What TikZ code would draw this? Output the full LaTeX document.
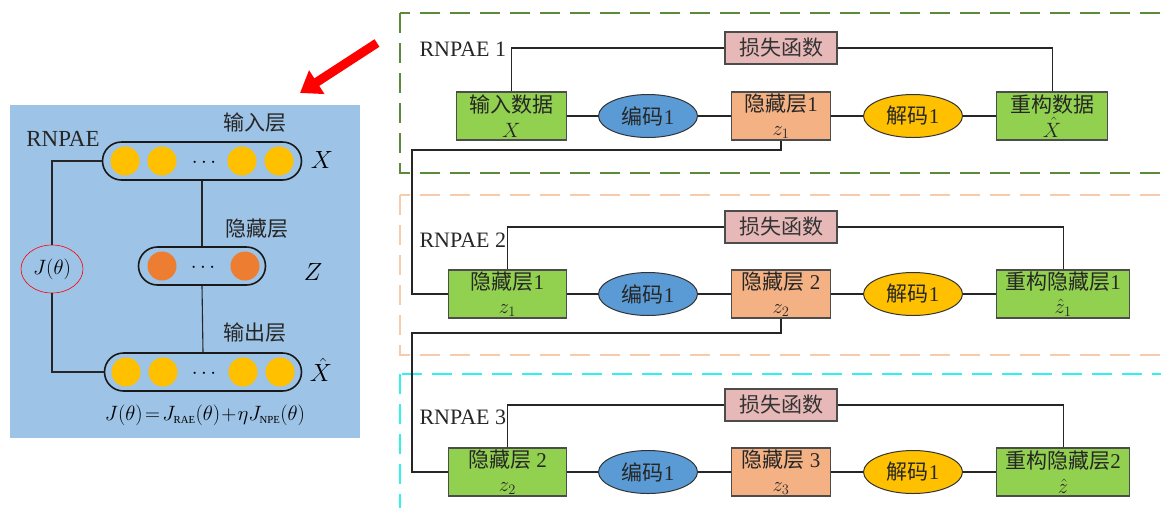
\documentclass[tikz,border=0pt]{standalone}
\usepackage{fontspec}
\setmainfont{Liberation Serif}
\newfontfamily\cjk{Noto Sans CJK SC}
\usetikzlibrary{positioning, arrows.meta, shapes.geometric}
\usepackage{xcolor}
\definecolor{panelblue}{HTML}{9DC3E6}
\definecolor{dotyellow}{HTML}{FFC000}
\definecolor{dotorange}{HTML}{ED7D31}
\definecolor{boxgreen}{HTML}{92D050}
\definecolor{boxorange}{HTML}{F4B183}
\definecolor{ellblue}{HTML}{5B9BD5}
\definecolor{losspink}{HTML}{E6B9B8}
\definecolor{grpgreen}{HTML}{5A8A3A}
\definecolor{grpsalmon}{HTML}{F8CBAD}
\definecolor{grpcyan}{HTML}{30F0F0}

\begin{document}
\begin{tikzpicture}[x=1pt, y=-1pt, font=\fontsize{21}{23}\selectfont,
  wire/.style={draw=black!85, line width=1.1pt},
  greenbox/.style={draw=black!70, line width=1.2pt, fill=boxgreen, minimum height=48,
    align=center, inner sep=0pt, text=black!85, font=\fontsize{21}{24.5}\selectfont},
  hidbox/.style={greenbox, fill=boxorange, minimum width=99},
  lossbox/.style={draw=black!70, line width=1.2pt, fill=losspink, minimum width=112,
    minimum height=32, inner sep=1pt, text=black!80},
  encnode/.style={ellipse, draw=black!80, line width=1pt, fill=ellblue, minimum width=99,
    minimum height=43, inner sep=0pt, text=black!85},
  decnode/.style={encnode, fill=dotyellow},
  grp/.style={line width=1.6pt, dash pattern=on 20pt off 10pt},
  pill/.style={draw=black!90, line width=1.6pt, rounded corners=19pt, minimum height=38},
  ydot/.style={circle, fill=dotyellow, minimum size=29, inner sep=0pt},
  odot/.style={circle, fill=dotorange, minimum size=29, inner sep=0pt},
  biglbl/.style={inner sep=1pt, font=\fontsize{23}{25}\selectfont}]
  \useasboundingbox (0,0) rectangle (1161,507);
  \clip (0,0) rectangle (1161,507);

  % left panel
  \fill[panelblue] (10,105) rectangle (360,438);
  \node[pill, minimum width=199] (inl) at (202,161) {};
  \node[pill, minimum width=127] (hidl) at (202,266) {};
  \node[pill, minimum width=197] (outl) at (203,372) {};
  \foreach \cx/\cn in {125/a,162/b,242/c,279/d}
    \node[ydot] (pin\cn) at (\cx,161) {};
  \foreach \cx/\cn in {126/a,163/b,243/c,280/d}
    \node[ydot] (pout\cn) at (\cx,372) {};
  \node[odot] (phida) at (162,266) {};
  \node[odot] (phidb) at (245,266) {};
  \node (dotsin) at (204,163) {$\cdots$};
  \node (dotshid) at (203,268) {$\cdots$};
  \node (dotsout) at (204,374) {$\cdots$};
  \node[text=black!85] (lblin) at (255,123) {\cjk 输入层};
  \node[text=black!85] (lblhid) at (257,229) {\cjk 隐藏层};
  \node[text=black!85] (lblout) at (255,333) {\cjk 输出层};
  \node[biglbl, text=black!85] (lblrn) at (63,139) {RNPAE};
  \node[biglbl] (lblx) at (322,160) {$X$};
  \node[biglbl] (lblz) at (313,272) {$Z$};
  \node[biglbl] (lblxh) at (321,370) {$\hat{X}$};
  \node[ellipse, draw=red, line width=0.6pt, minimum width=62, minimum height=48,
    inner sep=0pt] (jt) at (52,269) {$J(\theta)$};
  \draw[wire] (inl.south) -- (hidl.north);
  \draw[wire] (hidl.south) -- (outl.north);
  \draw[wire] (inl.west) -| (jt.north);
  \draw[wire] (jt.south) |- (outl.west);
  \node[inner sep=1pt, font=\fontsize{21.5}{24}\selectfont] (formula) at (205,415)
    {$J(\theta)\!=\!J_{\mathrm{\scriptscriptstyle RAE}}(\theta)\!+\!\eta J_{\mathrm{\scriptscriptstyle NPE}}(\theta)$};

  % red arrow
  \coordinate (arA) at (377,43);
  \coordinate (arB) at (300,93);
  \draw[red, line width=9pt, -{Triangle[length=20pt, width=27pt]}] (arA) -- (arB);

  % groups
  \draw[grp, draw=grpgreen] (400,13) rectangle (1175,173);
  \draw[grp, draw=grpsalmon] (400,195) rectangle (1175,355);
  \draw[grp, draw=grpcyan] (400,374) rectangle (1175,525);

  \foreach \r/\ry/\ly/\ty/\inw/\outw/\intxt/\hidtxt/\outtxt in {
    1/116/48/49/110/111/{{\cjk 输入数据}\\$X$}/{{\cjk 隐藏层}1\\$z_{1}$}/{{\cjk 重构数据}\\$\hat{X}$},
    2/294/227/240/118/133/{{\cjk 隐藏层}1\\$z_{1}$}/{{\cjk 隐藏层} 2\\$z_{2}$}/{{\cjk 重构隐藏层}1\\$\hat{z}_{1}$},
    3/472/405/417/118/133/{{\cjk 隐藏层} 2\\$z_{2}$}/{{\cjk 隐藏层} 3\\$z_{3}$}/{{\cjk 重构隐藏层}2\\$\hat{z}$}}
  { \node[greenbox, minimum width=\inw, anchor=east] (in\r) at (567,\ry) {\intxt};
    \node[encnode] (enc\r) at (648,\ry) {{\cjk 编码}1};
    \node[hidbox] (hid\r) at (781,\ry) {\hidtxt};
    \node[decnode] (dec\r) at (913,\ry) {{\cjk 解码}1};
    \node[greenbox, minimum width=\outw, anchor=west] (out\r) at (996,\ry) {\outtxt};
    \node[lossbox] (loss\r) at (781,\ly) {\cjk 损失函数};
    \node[anchor=west, text=black!85, font=\fontsize{22}{24}\selectfont] (tag\r) at (416,\ty) {RNPAE \r};
    \draw[wire] (in\r) -- (enc\r) -- (hid\r) -- (dec\r) -- (out\r);
    \draw[wire] (in\r.north) |- (loss\r.west);
    \draw[wire] (loss\r.east) -| (out\r.north); }

  % links between rows
  \coordinate (bendA) at (412,150);
  \coordinate (bendB) at (412,333);
  \draw[wire] (hid1.south) |- (bendA) |- (in2.west);
  \draw[wire] (hid2.south) |- (bendB) |- (in3.west);
\end{tikzpicture}
\end{document}
